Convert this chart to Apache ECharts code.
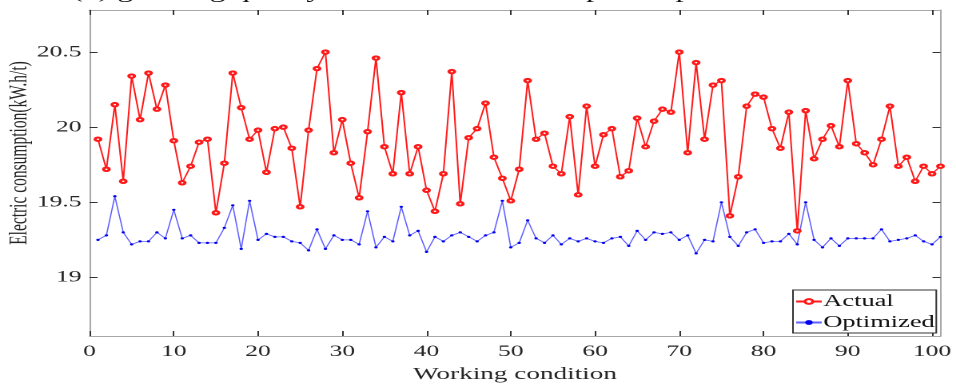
<!DOCTYPE html>
<html>
<head>
<meta charset="utf-8">
<script src="https://cdn.jsdelivr.net/npm/echarts@6/dist/echarts.min.js"></script>
<style>
html,body{margin:0;padding:0;background:#fff;overflow:hidden;}
#wrap{width:956px;height:388px;overflow:hidden;position:relative;}
#chart{width:598px;height:388px;transform:scaleX(1.5987);transform-origin:0 0;position:absolute;left:0;top:0;}
</style>
</head>
<body>
<div id="wrap"><div id="chart"></div></div>
<script>
const conditions = [1,2,3,4,5,6,7,8,9,10,11,12,13,14,15,16,17,18,19,20,21,22,23,24,25,26,27,28,29,30,31,32,33,34,35,36,37,38,39,40,41,42,43,44,45,46,47,48,49,50,51,52,53,54,55,56,57,58,59,60,61,62,63,64,65,66,67,68,69,70,71,72,73,74,75,76,77,78,79,80,81,82,83,84,85,86,87,88,89,90,91,92,93,94,95,96,97,98,99,100,101];
const actual = [19.92,19.72,20.15,19.64,20.34,20.05,20.36,20.12,20.28,19.91,
  19.63,19.74,19.90,19.92,19.43,19.76,20.36,20.13,19.92,19.98,
  19.70,19.99,20.00,19.86,19.47,19.98,20.39,20.50,19.83,20.05,
  19.76,19.53,19.97,20.46,19.87,19.69,20.23,19.69,19.87,19.58,
  19.44,19.69,20.37,19.49,19.93,19.99,20.16,19.80,19.66,19.51,
  19.72,20.31,19.92,19.96,19.74,19.69,20.07,19.55,20.14,19.74,
  19.95,19.99,19.67,19.71,20.06,19.87,20.04,20.12,20.10,20.50,
  19.83,20.43,19.92,20.28,20.31,19.41,19.67,20.14,20.22,20.20,
  19.99,19.86,20.10,19.31,20.11,19.79,19.92,20.01,19.87,20.31,
  19.89,19.83,19.75,19.92,20.14,19.74,19.80,19.64,19.74,19.69,
  19.74];
const optimized = [19.25,19.28,19.54,19.30,19.22,19.24,19.24,19.30,19.26,19.45,
  19.26,19.28,19.23,19.23,19.23,19.33,19.48,19.19,19.51,19.25,
  19.29,19.27,19.27,19.24,19.23,19.18,19.32,19.19,19.28,19.25,
  19.25,19.22,19.44,19.20,19.27,19.24,19.47,19.28,19.31,19.17,
  19.27,19.24,19.28,19.30,19.27,19.24,19.28,19.30,19.51,19.20,
  19.23,19.38,19.26,19.23,19.28,19.22,19.26,19.24,19.26,19.24,
  19.23,19.26,19.27,19.21,19.31,19.25,19.30,19.29,19.30,19.25,
  19.28,19.16,19.25,19.24,19.50,19.27,19.21,19.30,19.32,19.23,
  19.24,19.24,19.29,19.22,19.50,19.25,19.20,19.26,19.21,19.26,
  19.26,19.26,19.26,19.32,19.24,19.25,19.26,19.28,19.24,19.22,
  19.27];
const xTicks = [0,10,20,30,40,50,60,70,80,90,100];
const yTicks = [19,19.5,20,20.5];
const seriesNames = ['Actual','Optimized'];
const titleText = '(b) grinding quality and electric consumption optimization results';
const xName = 'Working condition';
const yName = 'Electric consumption(kW.h/t)';

const FONT = 'Liberation Serif';
const chart = echarts.init(document.getElementById('chart'), null, {renderer:'canvas', devicePixelRatio:2});

function xAxisCfg(pos, show){
  return {
    type:'value', position:pos, min:0, max:101,
    axisLine:{show:true, onZero:false, lineStyle:{color:'#a8a8a8', width:1}},
    axisTick:{show:true, inside:true, length:5, customValues:xTicks, lineStyle:{color:'#333', width:1}},
    axisLabel:{show:show, customValues:xTicks, margin:8, color:'#262626', fontFamily:FONT, fontSize:16},
    splitLine:{show:false},
    name: show ? xName : '', nameLocation:'middle', nameGap:30,
    nameTextStyle:{color:'#262626', fontFamily:FONT, fontSize:17}
  };
}
function yAxisCfg(pos, show){
  return {
    type:'value', position:pos, min:18.61, max:20.78,
    axisLine:{show:true, onZero:false, lineStyle:{color:'#a8a8a8', width:1}},
    axisTick:{show:true, inside:true, length:5, customValues:yTicks, lineStyle:{color:'#333', width:1}},
    axisLabel:{show:show, customValues:yTicks, margin:5, color:'#262626', fontFamily:FONT, fontSize:16,
      formatter:function(v){return String(v);}},
    splitLine:{show:false}
  };
}

chart.setOption({
  animation:false,
  backgroundColor:'#fff',
  grid:{left:56, right:9, top:10, bottom:52, containLabel:false},
  xAxis:[xAxisCfg('bottom', true), xAxisCfg('top', false)],
  yAxis:[yAxisCfg('left', true), yAxisCfg('right', false)],
  legend:{
    orient:'vertical', left:496, top:290,
    data:seriesNames,
    itemWidth:16, itemHeight:6, itemGap:4,
    padding:[3,1,2,1],
    borderColor:'#333', borderWidth:1, backgroundColor:'#fff',
    textStyle:{color:'#111', fontFamily:FONT, fontSize:16.5, padding:[0,0,0,-4]}
  },
  graphic:[
    {type:'text', x:45, y:2, silent:true,
      style:{text:titleText, fontFamily:FONT, fontSize:20, fill:'#111', textAlign:'left', textVerticalAlign:'bottom'}},
    {type:'text', x:12.5, y:153, rotation:Math.PI/2, silent:true,
      style:{text:yName, fontFamily:FONT, fontSize:15.5, fill:'#262626', textAlign:'center', textVerticalAlign:'middle'}}
  ],
  series:[
    {name:seriesNames[0], type:'line', xAxisIndex:0, yAxisIndex:0,
      data:conditions.map((c,i)=>[c, actual[i]]),
      symbol:'emptyCircle', symbolSize:3.5, showAllSymbol:true,
      lineStyle:{color:'#ff1a1a', width:1},
      itemStyle:{color:'#ff1a1a', borderColor:'#ff1a1a', borderWidth:0.8},
      z:3},
    {name:seriesNames[1], type:'line', xAxisIndex:0, yAxisIndex:0,
      data:conditions.map((c,i)=>[c, optimized[i]]),
      symbol:'circle', symbolSize:2.2, showAllSymbol:true,
      lineStyle:{color:'#6060ff', width:0.8},
      itemStyle:{color:'#0000ee'},
      z:2}
  ]
});
</script>
</body>
</html>
